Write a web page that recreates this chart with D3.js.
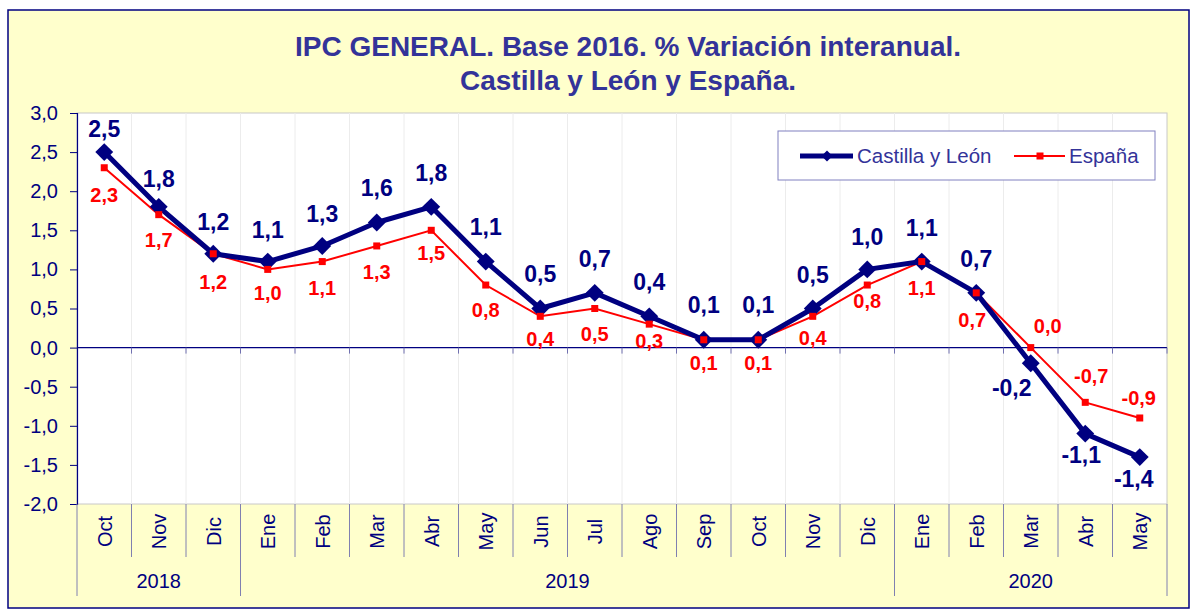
<!DOCTYPE html>
<html><head><meta charset="utf-8">
<script src="https://cdn.jsdelivr.net/npm/d3@7"></script>
<style>body{margin:0;background:#fff}svg{display:block;font-family:"Liberation Sans",Arial,sans-serif}</style>
</head><body><svg id="c" width="1195" height="610"></svg>
<script>
const months = ["Oct","Nov","Dic","Ene","Feb","Mar","Abr","May","Jun","Jul","Ago","Sep","Oct","Nov","Dic","Ene","Feb","Mar","Abr","May"];
const years = [{label:"2018",span:3},{label:"2019",span:12},{label:"2020",span:5}];
const cyl = [2.5,1.8,1.2,1.1,1.3,1.6,1.8,1.1,0.5,0.7,0.4,0.1,0.1,0.5,1.0,1.1,0.7,-0.2,-1.1,-1.4];
const esp = [2.3,1.7,1.2,1.0,1.1,1.3,1.5,0.8,0.4,0.5,0.3,0.1,0.1,0.4,0.8,1.1,0.7,0.0,-0.7,-0.9];
const yTicks = [3.0,2.5,2.0,1.5,1.0,0.5,0.0,-0.5,-1.0,-1.5,-2.0];
const seriesNames = ["Castilla y León","España"];
const titleLines = ["IPC GENERAL. Base 2016. % Variación interanual.","Castilla y León y España."];

// data-label placement offsets (pixels, relative to the point)
const cylDx = [0,0,0,0,0,0,0,0,0,0,0,0,0,0,0,0,0,-19,-4,-6];
const cylDy = [-15,-20,-24,-24,-24,-26,-26,-27,-27,-26,-26,-27,-27,-26,-24,-26,-26,33,29,30];
const espDx = [0,0,0,0,0,0,0,0,0,0,0,0,0,0,0,0,-4,17,6,-1];
const espDy = [34,32,35,31,33,33,30,32,30,32,24,30,30,29,23,33,34,-15,-19,-13];

const svg = d3.select("#c");
const navy = "#000080", titleCol = "#333399";
const L=77, R=1167, T=113, B=504;

svg.append("rect").attr("x",8).attr("y",10).attr("width",1181).attr("height",598)
  .attr("fill","#ffffcc").attr("stroke",navy).attr("stroke-width",1.5);

svg.append("g").selectAll("text").data(titleLines).join("text")
  .attr("x",628).attr("y",(d,i)=>56+i*34).attr("text-anchor","middle")
  .attr("font-size",28).attr("font-weight","bold").attr("fill",titleCol).text(d=>d);

const x = d3.scaleBand().domain(d3.range(months.length)).range([L,R]);
const y = d3.scaleLinear().domain([-2,3]).range([B,T]);

svg.append("rect").attr("x",L).attr("y",T).attr("width",R-L).attr("height",B-T)
  .attr("fill","#fff").attr("stroke","#c8c8c8").attr("stroke-width",1);

// vertical gridlines
svg.append("g").selectAll("line").data(d3.range(1,months.length)).join("line")
  .attr("x1",i=>x(i)).attr("x2",i=>x(i)).attr("y1",T).attr("y2",B)
  .attr("stroke","#ececec").attr("stroke-width",1);

const fmt = v=>d3.format(".1f")(v).replace(".",",").replace("−","-");

// y axis
const ya = svg.append("g").attr("transform",`translate(${L},0)`)
  .call(d3.axisLeft(y).tickValues(yTicks).tickSize(7).tickPadding(12).tickFormat(fmt));
ya.select(".domain").attr("stroke",navy).attr("stroke-width",1.2);
ya.selectAll(".tick line").attr("stroke",navy);
ya.selectAll(".tick text").attr("fill",navy).attr("font-size",20).attr("font-family","Liberation Sans, Arial");

// zero line with ticks
svg.append("line").attr("x1",L).attr("x2",R).attr("y1",y(0)).attr("y2",y(0)).attr("stroke",navy).attr("stroke-width",1.2);
svg.append("g").selectAll("line").data(d3.range(1,months.length+1)).join("line")
  .attr("x1",i=>L+i*x.step()).attr("x2",i=>L+i*x.step()).attr("y1",y(0)).attr("y2",y(0)+6)
  .attr("stroke","#7070b0");

// category separators below
const bounds = [0]; years.reduce((a,yr)=>{bounds.push(a+yr.span);return a+yr.span;},0);
svg.append("g").selectAll("line").data(d3.range(0,months.length+1)).join("line")
  .attr("x1",i=>L+i*x.step()).attr("x2",i=>L+i*x.step())
  .attr("y1",B).attr("y2",i=>bounds.includes(i)?596:557)
  .attr("stroke","#8080b0").attr("stroke-width",1);

svg.append("g").selectAll("text").data(months).join("text")
  .attr("transform",(d,i)=>`translate(${x(i)+x.bandwidth()/2+7.5},531.5) rotate(-90)`)
  .attr("text-anchor","middle").attr("font-size",20).attr("fill",navy).text(d=>d);

svg.append("g").selectAll("text").data(years).join("text")
  .attr("x",(d,i)=>L+(bounds[i]+d.span/2)*x.step()).attr("y",588)
  .attr("text-anchor","middle").attr("font-size",20).attr("fill",navy).text(d=>d.label);

const cx = i=>x(i)+x.bandwidth()/2;
const line = d3.line().x((d,i)=>cx(i)).y(d=>y(d));

svg.append("path").datum(esp).attr("d",line).attr("fill","none").attr("stroke","#ff0000").attr("stroke-width",2);
svg.append("path").datum(cyl).attr("d",line).attr("fill","none").attr("stroke",navy).attr("stroke-width",5).attr("stroke-linejoin","round");

svg.append("g").selectAll("path").data(cyl).join("path")
  .attr("d",d3.symbol(d3.symbolSquare,160)).attr("fill",navy)
  .attr("transform",(d,i)=>`translate(${cx(i)},${y(d)}) rotate(45)`);
svg.append("g").selectAll("rect").data(esp).join("rect")
  .attr("x",(d,i)=>cx(i)-3.5).attr("y",d=>y(d)-3.5).attr("width",7).attr("height",7).attr("fill","#ff0000");

svg.append("g").selectAll("text").data(cyl).join("text")
  .attr("x",(d,i)=>cx(i)+cylDx[i]).attr("y",(d,i)=>y(d)+cylDy[i])
  .attr("text-anchor","middle").attr("font-size",23).attr("font-weight","bold").attr("fill",navy).text(fmt);
svg.append("g").selectAll("text").data(esp).join("text")
  .attr("x",(d,i)=>cx(i)+espDx[i]).attr("y",(d,i)=>y(d)+espDy[i])
  .attr("text-anchor","middle").attr("font-size",20).attr("font-weight","bold").attr("fill","#ff0000").text(fmt);

// legend
const lg = svg.append("g");
lg.append("rect").attr("x",778).attr("y",131).attr("width",377).attr("height",49)
  .attr("fill","#fff").attr("stroke","#8080c0");
lg.append("line").attr("x1",800).attr("x2",853).attr("y1",156).attr("y2",156).attr("stroke",navy).attr("stroke-width",5);
lg.append("path").attr("d",d3.symbol(d3.symbolSquare,60)).attr("fill",navy).attr("transform","translate(827,156) rotate(45)");
lg.append("text").attr("x",857).attr("y",163).attr("font-size",20.5).attr("fill",titleCol).text(seriesNames[0]);
lg.append("line").attr("x1",1014).attr("x2",1065).attr("y1",156).attr("y2",156).attr("stroke","#ff0000").attr("stroke-width",2);
lg.append("rect").attr("x",1036.5).attr("y",152.5).attr("width",7).attr("height",7).attr("fill","#ff0000");
lg.append("text").attr("x",1069).attr("y",163).attr("font-size",20.5).attr("fill",titleCol).text(seriesNames[1]);
</script></body></html>
